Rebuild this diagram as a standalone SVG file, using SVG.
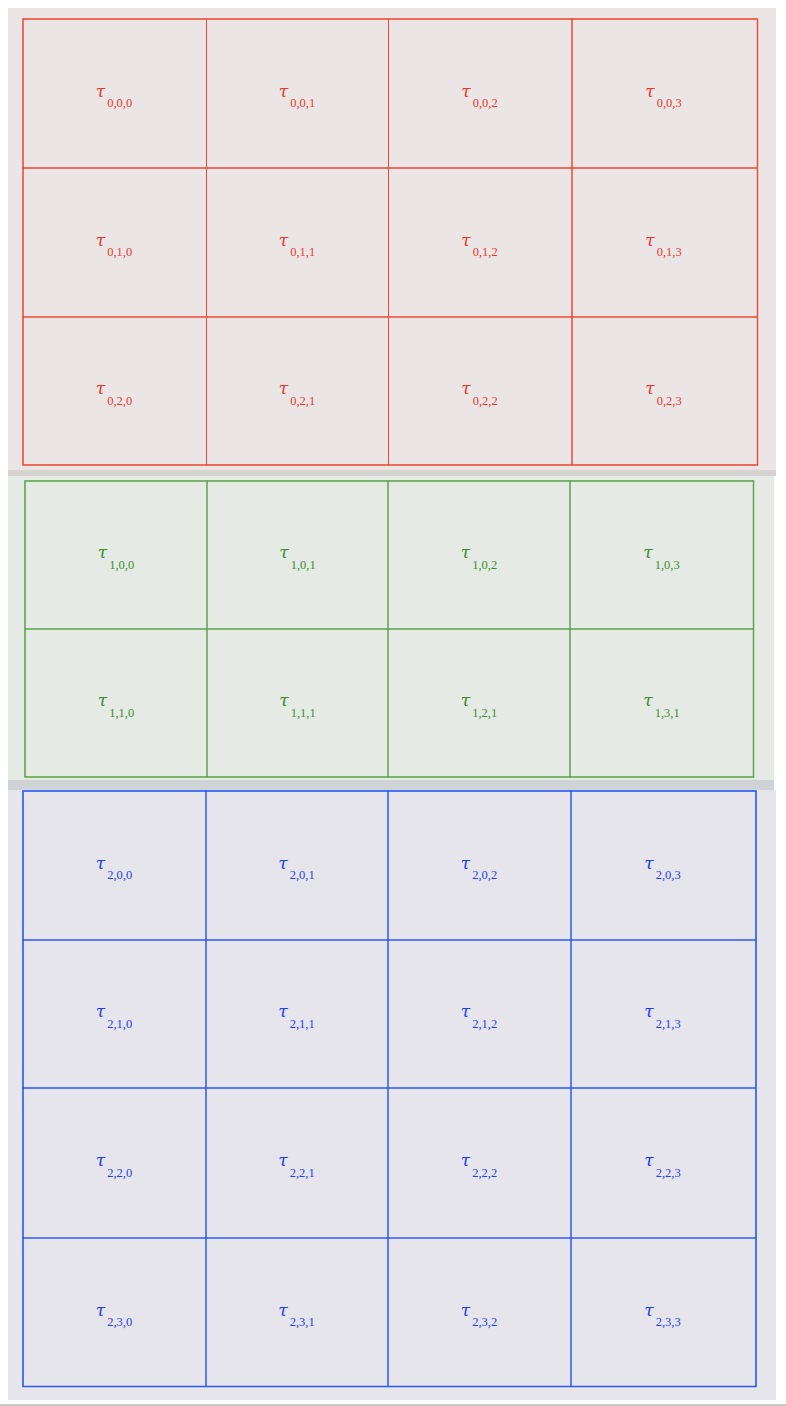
<svg xmlns="http://www.w3.org/2000/svg" width="786" height="1406" viewBox="0 0 786 1406">
<style>
.lbl{font-family:"Liberation Serif","DejaVu Serif",serif;text-anchor:middle}
.t{font-family:"DejaVu Serif",serif;font-size:17px;font-style:italic}
.s{font-size:12.5px}
.r .c{fill:none;stroke:#ea4a36;stroke-width:1}
.r .lbl{fill:#e8392e}
.g .c{fill:none;stroke:#5ca24e;stroke-width:1}
.g .lbl{fill:#3c8f2e}
.b .c{fill:none;stroke:#2a58f5;stroke-width:1}
.b .lbl{fill:#1f3ff5}
.ro{fill:none;stroke:#ee7a68;stroke-width:1.6}
.go{fill:none;stroke:#7dbb70;stroke-width:1.6}
.bo{fill:none;stroke:#4f78f5;stroke-width:1.6}
</style>
<rect x="0" y="0" width="786" height="1406" fill="#ffffff"/>
<rect x="8" y="8" width="768" height="462" fill="#ebe5e6"/>
<rect x="8" y="470" width="768" height="6" fill="#d6d3d0"/>
<rect x="8" y="476" width="766" height="304" fill="#e5eae5"/>
<rect x="8" y="780" width="766" height="10" fill="#d0d3d6"/>
<rect x="8" y="790" width="768" height="610" fill="#e6e5ec"/>
<rect x="0" y="1404" width="786" height="2" fill="#c8c8c8"/>

<g id="panel0" class="r">
<rect class="ro" x="23" y="19" width="734.5" height="446"/>
<g id="n000"><rect class="c" x="23" y="19" width="183.5" height="149"/><text class="lbl" x="114" y="96.5"><tspan class="t">τ</tspan><tspan class="s" dx="2" dy="10.5">0,0,0</tspan></text></g>
<g id="n001"><rect class="c" x="206.5" y="19" width="182" height="149"/><text class="lbl" x="297" y="96.5"><tspan class="t">τ</tspan><tspan class="s" dx="2" dy="10.5">0,0,1</tspan></text></g>
<g id="n002"><rect class="c" x="388.5" y="19" width="183.5" height="149"/><text class="lbl" x="479.5" y="96.5"><tspan class="t">τ</tspan><tspan class="s" dx="2" dy="10.5">0,0,2</tspan></text></g>
<g id="n003"><rect class="c" x="572" y="19" width="185.5" height="149"/><text class="lbl" x="663.5" y="96.5"><tspan class="t">τ</tspan><tspan class="s" dx="2" dy="10.5">0,0,3</tspan></text></g>
<g id="n010"><rect class="c" x="23" y="168" width="183.5" height="149"/><text class="lbl" x="114" y="245.5"><tspan class="t">τ</tspan><tspan class="s" dx="2" dy="10.5">0,1,0</tspan></text></g>
<g id="n011"><rect class="c" x="206.5" y="168" width="182" height="149"/><text class="lbl" x="297" y="245.5"><tspan class="t">τ</tspan><tspan class="s" dx="2" dy="10.5">0,1,1</tspan></text></g>
<g id="n012"><rect class="c" x="388.5" y="168" width="183.5" height="149"/><text class="lbl" x="479.5" y="245.5"><tspan class="t">τ</tspan><tspan class="s" dx="2" dy="10.5">0,1,2</tspan></text></g>
<g id="n013"><rect class="c" x="572" y="168" width="185.5" height="149"/><text class="lbl" x="663.5" y="245.5"><tspan class="t">τ</tspan><tspan class="s" dx="2" dy="10.5">0,1,3</tspan></text></g>
<g id="n020"><rect class="c" x="23" y="317" width="183.5" height="148"/><text class="lbl" x="114" y="394"><tspan class="t">τ</tspan><tspan class="s" dx="2" dy="10.5">0,2,0</tspan></text></g>
<g id="n021"><rect class="c" x="206.5" y="317" width="182" height="148"/><text class="lbl" x="297" y="394"><tspan class="t">τ</tspan><tspan class="s" dx="2" dy="10.5">0,2,1</tspan></text></g>
<g id="n022"><rect class="c" x="388.5" y="317" width="183.5" height="148"/><text class="lbl" x="479.5" y="394"><tspan class="t">τ</tspan><tspan class="s" dx="2" dy="10.5">0,2,2</tspan></text></g>
<g id="n023"><rect class="c" x="572" y="317" width="185.5" height="148"/><text class="lbl" x="663.5" y="394"><tspan class="t">τ</tspan><tspan class="s" dx="2" dy="10.5">0,2,3</tspan></text></g>
</g>

<g id="panel1" class="g">
<rect class="go" x="25" y="481" width="728.5" height="296"/>
<g id="n100"><rect class="c" x="25" y="481" width="182" height="148"/><text class="lbl" x="116" y="558"><tspan class="t">τ</tspan><tspan class="s" dx="2" dy="10.5">1,0,0</tspan></text></g>
<g id="n101"><rect class="c" x="207" y="481" width="181" height="148"/><text class="lbl" x="297.5" y="558"><tspan class="t">τ</tspan><tspan class="s" dx="2" dy="10.5">1,0,1</tspan></text></g>
<g id="n102"><rect class="c" x="388" y="481" width="182" height="148"/><text class="lbl" x="479" y="558"><tspan class="t">τ</tspan><tspan class="s" dx="2" dy="10.5">1,0,2</tspan></text></g>
<g id="n103"><rect class="c" x="570" y="481" width="183.5" height="148"/><text class="lbl" x="661.5" y="558"><tspan class="t">τ</tspan><tspan class="s" dx="2" dy="10.5">1,0,3</tspan></text></g>
<g id="n110"><rect class="c" x="25" y="629" width="182" height="148"/><text class="lbl" x="116" y="706"><tspan class="t">τ</tspan><tspan class="s" dx="2" dy="10.5">1,1,0</tspan></text></g>
<g id="n111"><rect class="c" x="207" y="629" width="181" height="148"/><text class="lbl" x="297.5" y="706"><tspan class="t">τ</tspan><tspan class="s" dx="2" dy="10.5">1,1,1</tspan></text></g>
<g id="n121"><rect class="c" x="388" y="629" width="182" height="148"/><text class="lbl" x="479" y="706"><tspan class="t">τ</tspan><tspan class="s" dx="2" dy="10.5">1,2,1</tspan></text></g>
<g id="n131"><rect class="c" x="570" y="629" width="183.5" height="148"/><text class="lbl" x="661.5" y="706"><tspan class="t">τ</tspan><tspan class="s" dx="2" dy="10.5">1,3,1</tspan></text></g>
</g>

<g id="panel2" class="b">
<rect class="bo" x="23" y="791" width="733" height="595.5"/>
<g id="n200"><rect class="c" x="23" y="791" width="183" height="149"/><text class="lbl" x="114" y="868.5"><tspan class="t">τ</tspan><tspan class="s" dx="2" dy="10.5">2,0,0</tspan></text></g>
<g id="n201"><rect class="c" x="206" y="791" width="182" height="149"/><text class="lbl" x="296.5" y="868.5"><tspan class="t">τ</tspan><tspan class="s" dx="2" dy="10.5">2,0,1</tspan></text></g>
<g id="n202"><rect class="c" x="388" y="791" width="183" height="149"/><text class="lbl" x="479" y="868.5"><tspan class="t">τ</tspan><tspan class="s" dx="2" dy="10.5">2,0,2</tspan></text></g>
<g id="n203"><rect class="c" x="571" y="791" width="185" height="149"/><text class="lbl" x="662.5" y="868.5"><tspan class="t">τ</tspan><tspan class="s" dx="2" dy="10.5">2,0,3</tspan></text></g>
<g id="n210"><rect class="c" x="23" y="940" width="183" height="148"/><text class="lbl" x="114" y="1017"><tspan class="t">τ</tspan><tspan class="s" dx="2" dy="10.5">2,1,0</tspan></text></g>
<g id="n211"><rect class="c" x="206" y="940" width="182" height="148"/><text class="lbl" x="296.5" y="1017"><tspan class="t">τ</tspan><tspan class="s" dx="2" dy="10.5">2,1,1</tspan></text></g>
<g id="n212"><rect class="c" x="388" y="940" width="183" height="148"/><text class="lbl" x="479" y="1017"><tspan class="t">τ</tspan><tspan class="s" dx="2" dy="10.5">2,1,2</tspan></text></g>
<g id="n213"><rect class="c" x="571" y="940" width="185" height="148"/><text class="lbl" x="662.5" y="1017"><tspan class="t">τ</tspan><tspan class="s" dx="2" dy="10.5">2,1,3</tspan></text></g>
<g id="n220"><rect class="c" x="23" y="1088" width="183" height="150"/><text class="lbl" x="114" y="1166"><tspan class="t">τ</tspan><tspan class="s" dx="2" dy="10.5">2,2,0</tspan></text></g>
<g id="n221"><rect class="c" x="206" y="1088" width="182" height="150"/><text class="lbl" x="296.5" y="1166"><tspan class="t">τ</tspan><tspan class="s" dx="2" dy="10.5">2,2,1</tspan></text></g>
<g id="n222"><rect class="c" x="388" y="1088" width="183" height="150"/><text class="lbl" x="479" y="1166"><tspan class="t">τ</tspan><tspan class="s" dx="2" dy="10.5">2,2,2</tspan></text></g>
<g id="n223"><rect class="c" x="571" y="1088" width="185" height="150"/><text class="lbl" x="662.5" y="1166"><tspan class="t">τ</tspan><tspan class="s" dx="2" dy="10.5">2,2,3</tspan></text></g>
<g id="n230"><rect class="c" x="23" y="1238" width="183" height="148.5"/><text class="lbl" x="114" y="1315.5"><tspan class="t">τ</tspan><tspan class="s" dx="2" dy="10.5">2,3,0</tspan></text></g>
<g id="n231"><rect class="c" x="206" y="1238" width="182" height="148.5"/><text class="lbl" x="296.5" y="1315.5"><tspan class="t">τ</tspan><tspan class="s" dx="2" dy="10.5">2,3,1</tspan></text></g>
<g id="n232"><rect class="c" x="388" y="1238" width="183" height="148.5"/><text class="lbl" x="479" y="1315.5"><tspan class="t">τ</tspan><tspan class="s" dx="2" dy="10.5">2,3,2</tspan></text></g>
<g id="n233"><rect class="c" x="571" y="1238" width="185" height="148.5"/><text class="lbl" x="662.5" y="1315.5"><tspan class="t">τ</tspan><tspan class="s" dx="2" dy="10.5">2,3,3</tspan></text></g>
</g>
<g id="connectors"/>
</svg>
